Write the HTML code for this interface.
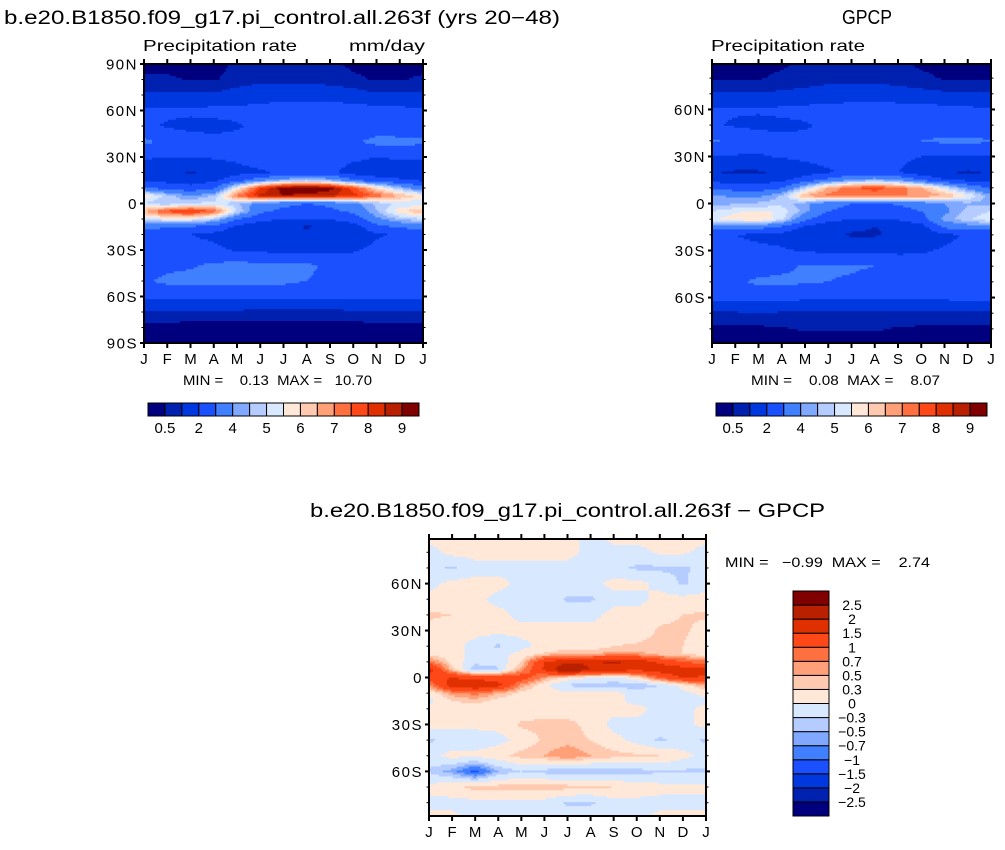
<!DOCTYPE html>
<html><head><meta charset="utf-8">
<style>
body{margin:0;background:#fff;}
svg{display:block;font-family:"Liberation Sans",Arial,sans-serif;}
.tk{letter-spacing:1.5px;}
</style></head>
<body>
<svg id="chart" width="1005" height="850" viewBox="0 0 1005 850" xmlns="http://www.w3.org/2000/svg">
<text x="4" y="24" font-size="19" textLength="556" lengthAdjust="spacingAndGlyphs">b.e20.B1850.f09_g17.pi_control.all.263f (yrs 20−48)</text>
<text x="842" y="24" font-size="20" textLength="50" lengthAdjust="spacingAndGlyphs">GPCP</text>
<text x="143" y="51" font-size="16" textLength="154" lengthAdjust="spacingAndGlyphs">Precipitation rate</text>
<text x="349" y="51" font-size="16" textLength="76" lengthAdjust="spacingAndGlyphs">mm/day</text>
<text x="711" y="51" font-size="16" textLength="154" lengthAdjust="spacingAndGlyphs">Precipitation rate</text>
<text x="183" y="385" font-size="14" textLength="189" lengthAdjust="spacingAndGlyphs" xml:space="preserve">MIN =    0.13  MAX =   10.70</text>
<text x="751" y="385" font-size="14" textLength="189" lengthAdjust="spacingAndGlyphs" xml:space="preserve">MIN =    0.08  MAX =    8.07</text>
<text x="310" y="517" font-size="19" textLength="515" lengthAdjust="spacingAndGlyphs">b.e20.B1850.f09_g17.pi_control.all.263f − GPCP</text>
<text x="725" y="567" font-size="14" textLength="205" lengthAdjust="spacingAndGlyphs" xml:space="preserve">MIN =   −0.99  MAX =    2.74</text>
<g id="layer"></g>
</svg>
<script>
const lats=[90,80,70,60,50,40,30,20,15,10,5,0,-5,-10,-15,-20,-30,-40,-50,-60,-70,-80,-90];
const monthLabels=["J","F","M","A","M","J","J","A","S","O","N","D","J"];
const modelPrecip=[
[0.3,0.3,0.3,0.3,0.6,0.6,0.6,0.6,0.6,0.4,0.3,0.3],
[0.6,0.6,0.45,0.45,0.7,0.8,0.8,0.8,0.7,0.6,0.45,0.45],
[1.1,1.1,1.1,1.1,1.3,1.5,1.6,1.6,1.5,1.3,1.1,1.1],
[2.2,2.2,2.2,2.3,2.3,2.4,2.5,2.5,2.6,2.6,2.4,2.3],
[2.2,1.9,1.7,1.7,1.9,2.2,2.3,2.3,2.4,2.4,2.4,2.3],
[3.2,2.8,2.5,2.3,2.3,2.3,2.1,2.2,2.5,2.8,3.3,3.3],
[2.1,2.0,2.0,2.1,2.2,2.4,2.5,2.5,2.4,2.2,2.0,2.1],
[1.6,1.3,0.9,1.3,1.7,1.9,2.1,2.3,2.2,1.6,1.5,1.6],
[1.9,1.7,1.6,1.8,2.6,3.6,4.4,4.8,4.4,3.2,2.4,2.1],
[3.2,2.6,2.3,2.8,5.5,8.0,9.3,9.6,9.2,7.8,6.0,4.5],
[5.8,4.8,4.0,4.6,7.2,8.6,9.0,8.8,8.6,8.2,7.4,6.5],
[5.0,4.5,5.0,5.2,4.6,3.6,3.2,3.0,3.2,3.8,4.6,5.2],
[6.5,7.8,8.2,7.5,5.0,3.2,2.8,2.6,2.8,3.2,4.5,5.8],
[5.0,5.5,5.5,4.8,3.0,2.3,2.0,2.0,2.1,2.4,3.8,4.6],
[3.3,3.2,3.0,2.6,1.8,1.4,1.2,0.9,1.2,1.6,2.6,3.2],
[2.2,2.1,2.0,1.8,1.5,1.3,1.2,1.2,1.3,1.5,1.9,2.1],
[2.5,2.4,2.3,2.2,1.9,1.8,1.7,1.7,1.7,1.9,2.2,2.4],
[2.5,2.8,2.9,3.2,3.3,3.3,3.3,3.2,2.8,2.6,2.5,2.5],
[2.9,3.2,3.3,3.3,3.3,3.3,3.2,3.0,2.7,2.6,2.6,2.7],
[2.3,2.3,2.2,2.2,2.2,2.2,2.3,2.3,2.3,2.2,2.3,2.3],
[0.9,0.9,0.85,0.85,0.85,0.8,0.8,0.8,0.8,0.85,0.9,0.9],
[0.3,0.3,0.3,0.3,0.3,0.3,0.3,0.3,0.3,0.3,0.3,0.3],
[0.2,0.2,0.2,0.2,0.2,0.2,0.2,0.2,0.2,0.2,0.2,0.2]];
const gpcpPrecip=[
[0.4,0.4,0.4,0.4,0.6,0.6,0.6,0.6,0.6,0.4,0.4,0.4],
[0.45,0.45,0.45,0.6,0.7,0.8,0.8,0.8,0.7,0.6,0.45,0.45],
[1.1,1.1,1.1,1.1,1.2,1.3,1.4,1.4,1.3,1.2,1.1,1.1],
[2.1,2.1,2.1,2.2,2.3,2.4,2.5,2.5,2.5,2.5,2.3,2.2],
[2.1,1.9,1.8,1.8,1.9,2.2,2.3,2.3,2.3,2.3,2.3,2.2],
[3.1,2.8,2.4,2.3,2.2,2.2,2.1,2.1,2.4,3.0,3.2,3.2],
[2.0,1.9,1.9,2.1,2.2,2.3,2.4,2.4,2.3,2.0,1.9,1.9],
[1.0,0.9,0.9,1.1,1.6,1.9,2.2,2.3,2.0,1.4,1.0,0.9],
[1.7,1.6,1.6,1.8,2.5,3.3,4.0,4.4,4.0,3.0,2.1,1.8],
[2.8,2.5,2.4,2.9,4.8,6.6,7.4,7.7,7.3,6.6,5.2,3.8],
[4.2,3.8,3.8,4.6,6.6,7.2,7.2,7.2,7.0,7.0,6.6,5.5],
[4.3,4.4,4.6,4.8,4.2,3.4,3.0,2.9,3.1,3.5,4.0,4.4],
[5.0,5.4,5.6,5.4,4.2,3.0,2.6,2.5,2.6,3.0,3.8,4.7],
[5.4,5.8,6.0,5.2,3.2,2.3,2.0,2.0,2.1,2.6,4.2,4.9],
[3.6,3.6,3.4,2.8,1.8,1.4,1.2,1.0,1.2,1.6,3.2,3.6],
[2.2,2.0,1.8,1.7,1.4,1.2,0.9,0.9,1.2,1.4,1.8,2.1],
[2.3,2.3,2.2,2.1,1.9,1.8,1.8,1.8,1.8,1.9,2.1,2.2],
[2.3,2.4,2.5,2.8,3.1,3.1,3.1,3.0,2.6,2.4,2.3,2.3],
[2.5,2.8,3.2,3.2,3.1,3.0,2.9,2.7,2.5,2.4,2.4,2.5],
[2.3,2.3,2.4,2.3,2.2,2.2,2.2,2.2,2.2,2.2,2.2,2.3],
[0.9,0.9,0.9,0.9,0.9,0.9,0.9,0.9,0.9,0.9,0.9,0.9],
[0.4,0.4,0.4,0.45,0.55,0.55,0.55,0.55,0.45,0.4,0.4,0.4],
[0.3,0.3,0.3,0.3,0.3,0.3,0.3,0.3,0.3,0.3,0.3,0.3]];
const diffPrecip=[
[0.1,0.1,0.2,0.1,0.1,0.1,0.1,-0.1,0.1,0.1,0.1,0.1],
[-0.1,0.1,0.1,0.1,0.1,0.1,0.1,-0.1,-0.1,-0.1,0.05,0.05],
[-0.2,-0.35,-0.1,-0.1,-0.1,-0.1,-0.1,-0.2,-0.2,-0.35,-0.35,-0.35],
[-0.1,0.1,0.1,0.1,-0.1,-0.1,-0.1,-0.1,0.1,0.1,-0.1,-0.35],
[0.1,0.1,0.1,-0.1,-0.1,-0.1,-0.35,-0.35,-0.1,-0.1,0.1,0.1],
[0.35,0.3,0.1,0.1,-0.1,-0.1,-0.1,-0.1,0.1,0.1,0.2,0.3],
[0.2,0.1,0.1,0.1,0.1,0.1,0.1,0.1,0.1,0.1,0.35,0.35],
[0.1,0.1,-0.1,-0.35,-0.1,0.1,0.1,0.1,0.3,0.35,0.4,0.3],
[0.2,0.1,-0.1,-0.1,0.1,0.35,0.5,0.5,0.6,0.6,0.4,0.3],
[0.8,0.2,-0.2,-0.2,0.3,1.5,1.9,1.9,2.1,1.9,1.4,1.0],
[1.7,0.4,-0.5,-0.35,0.6,1.6,2.6,2.0,1.8,1.6,1.8,1.8],
[1.4,1.5,1.3,1.2,1.3,0.6,0.2,0.0,-0.1,0.2,1.0,1.6],
[0.6,1.8,2.0,1.7,0.6,0.1,-0.35,-0.4,-0.45,-0.5,-0.3,0.1],
[0.1,0.6,0.8,0.5,0.2,0.1,0.1,0.1,0.1,-0.1,-0.1,-0.1],
[-0.1,0.3,0.4,0.2,0.1,0.1,0.1,0.1,0.1,-0.1,-0.1,-0.1],
[0.1,0.1,0.1,0.1,0.1,0.1,0.1,0.1,0.1,0.1,-0.1,-0.1],
[0.1,0.1,0.1,0.1,0.35,0.4,0.4,0.2,-0.1,-0.1,-0.1,-0.1],
[-0.35,-0.2,-0.2,-0.1,0.1,0.35,0.4,0.3,0.1,-0.1,-0.35,-0.2],
[-0.1,0.1,0.1,0.2,0.4,0.5,0.7,0.5,0.4,0.35,0.3,0.1],
[-0.35,-0.6,-1.1,-0.5,-0.3,-0.4,-0.5,-0.5,-0.5,-0.4,-0.35,-0.35],
[0.1,0.2,0.4,0.4,0.4,0.4,0.4,0.35,0.3,0.2,0.1,0.1],
[-0.1,-0.1,-0.1,-0.1,-0.1,-0.1,-0.35,-0.35,-0.1,-0.1,-0.1,-0.1],
[0.1,0.1,-0.1,-0.1,-0.1,-0.1,-0.1,-0.1,-0.1,-0.1,0.1,0.1]];
const precipLevels=[0.5,1,2,3,4,4.5,5,5.5,6,6.5,7,7.5,8,8.5,9];
const precipTickLabels=["0.5","","2","","4","","5","","6","","7","","8","","9"];
const diffLevels=[-2.5,-2,-1.5,-1,-0.7,-0.5,-0.3,0,0.3,0.5,0.7,1,1.5,2,2.5];
const diffTickLabels=["−2.5","−2","−1.5","−1","−0.7","−0.5","−0.3","0","0.3","0.5","0.7","1","1.5","2","2.5"];
const palette=["#00007f","#0020b0","#0038e0","#1a50ff","#4080ff","#80a8ff","#b4ccff","#d8e8ff","#ffe8d8","#ffcab0","#ffa078","#ff7040","#ff4818","#e03000","#b82000","#800000"];

const NS="http://www.w3.org/2000/svg";
const layer=document.getElementById('layer');
function mk(tag,attrs,parent){const e=document.createElementNS(NS,tag);for(const k in attrs)e.setAttribute(k,attrs[k]);(parent||layer).appendChild(e);return e;}
function levelIndex(v,levels){let i=0;while(i<levels.length&&v>=levels[i])i++;return i;}
function sample(data,m,lat){
  let r=0;while(r<lats.length-2&&lat<lats[r+1])r++;
  const t=(lats[r]-lat)/(lats[r]-lats[r+1]);
  const m0=Math.floor(m)%12, m1=(m0+1)%12, f=m-Math.floor(m);
  const a=data[r][m0]*(1-f)+data[r][m1]*f;
  const b=data[r+1][m0]*(1-f)+data[r+1][m1]*f;
  return a*(1-t)+b*t;
}
function drawPanel(name,data,levels,x0,y0,w,h,latTop,latBot,yTickLabels){
  const g=mk('g',{});
  
  
  const xScale=m=>x0+m/12*w;
  const yScale=lat=>y0+(latTop-lat)/(latTop-latBot)*h;
  const nx=140, ny=140, cw=w/nx, ch=h/ny;
  for(let j=0;j<ny;j++){
    const lat=latTop-(j+0.5)/ny*(latTop-latBot);
    let start=0, cur=-1;
    for(let i=0;i<=nx;i++){
      let idx=-2;
      if(i<nx){const m=(i+0.5)/nx*12;idx=levelIndex(sample(data,m,lat),levels);}
      if(idx!==cur){
        if(cur>=0){
          const r=mk('rect',{x:(x0+start*cw).toFixed(2),y:(y0+j*ch).toFixed(2),width:((i-start)*cw+0.6).toFixed(2),height:(ch+0.6).toFixed(2),fill:palette[cur]},g);
          
          
        }
        start=i;cur=idx;
      }
    }
  }
  const ax=mk('g',{stroke:'#000','stroke-width':2,fill:'none'});
  
  
  mk('rect',{x:x0,y:y0,width:w,height:h},ax);
  for(let k=0;k<=12;k++){
    const x=xScale(k);
    mk('line',{x1:x,y1:y0,x2:x,y2:y0-5},ax);
    mk('line',{x1:x,y1:y0+h,x2:x,y2:y0+h+5},ax);
    const t=mk('text',{x:x,y:y0+h+21,'font-size':15,'text-anchor':'middle',fill:'#000',stroke:'none'});
    
    
    t.textContent=monthLabels[k];
  }
  for(let lat=-90;lat<=90;lat+=10){
    if(lat>latTop+0.01||lat<latBot-0.01)continue;
    const y=yScale(lat), major=lat%30===0, L=major?4:2.5;
    mk('line',{x1:x0,y1:y,x2:x0-L,y2:y,'stroke-width':major?2:1},ax);
    mk('line',{x1:x0+w,y1:y,x2:x0+w+L,y2:y,'stroke-width':major?2:1},ax);
  }
  yTickLabels.forEach(([lat,lab])=>{
    const t=mk('text',{x:x0-6,y:yScale(lat)+5.5,'font-size':15,'text-anchor':'end',fill:'#000',stroke:'none','class':'tk'});
    
    
    t.textContent=lab;
  });
}
function hColorbar(name,x0,y0,w,h,labels){
  const g=mk('g',{});
  
  
  const n=palette.length, bw=w/n;
  palette.forEach((c,i)=>{
    const r=mk('rect',{x:x0+i*bw,y:y0,width:bw,height:h,fill:c,stroke:'#000','stroke-width':1},g);
    
    
  });
  labels.forEach((lab,i)=>{
    if(!lab)return;
    const t=mk('text',{x:x0+(i+1)*bw,y:y0+h+17,'font-size':15,'text-anchor':'middle'},g);
    
    
    t.textContent=lab;
  });
}
function vColorbar(name,x0,y0,w,h,labels){
  const g=mk('g',{});
  
  
  const n=palette.length, bh=h/n;
  palette.forEach((c,i)=>{
    const r=mk('rect',{x:x0,y:y0+(n-1-i)*bh,width:w,height:bh,fill:c,stroke:'#000','stroke-width':1},g);
    
    
  });
  labels.forEach((lab,i)=>{
    const t=mk('text',{x:x0+w+23,y:y0+(n-1-i)*bh+5,'font-size':14,'text-anchor':'middle'},g);
    
    
    t.textContent=lab;
  });
}
drawPanel('model-precip-panel',modelPrecip,precipLevels,144,64,279,279,90,-90,
  [[90,'90N'],[60,'60N'],[30,'30N'],[0,'0'],[-30,'30S'],[-60,'60S'],[-90,'90S']]);
drawPanel('gpcp-precip-panel',gpcpPrecip,precipLevels,712,64,279,279,89,-89,
  [[60,'60N'],[30,'30N'],[0,'0'],[-30,'30S'],[-60,'60S']]);
drawPanel('diff-precip-panel',diffPrecip,diffLevels,429,539,277,277,88.5,-88.5,
  [[60,'60N'],[30,'30N'],[0,'0'],[-30,'30S'],[-60,'60S']]);
hColorbar('model-colorbar',148,403,271,13,precipTickLabels);
hColorbar('gpcp-colorbar',716,403,271,13,precipTickLabels);
vColorbar('diff-colorbar',793,591,36,225,diffTickLabels);
</script>
</body></html>
